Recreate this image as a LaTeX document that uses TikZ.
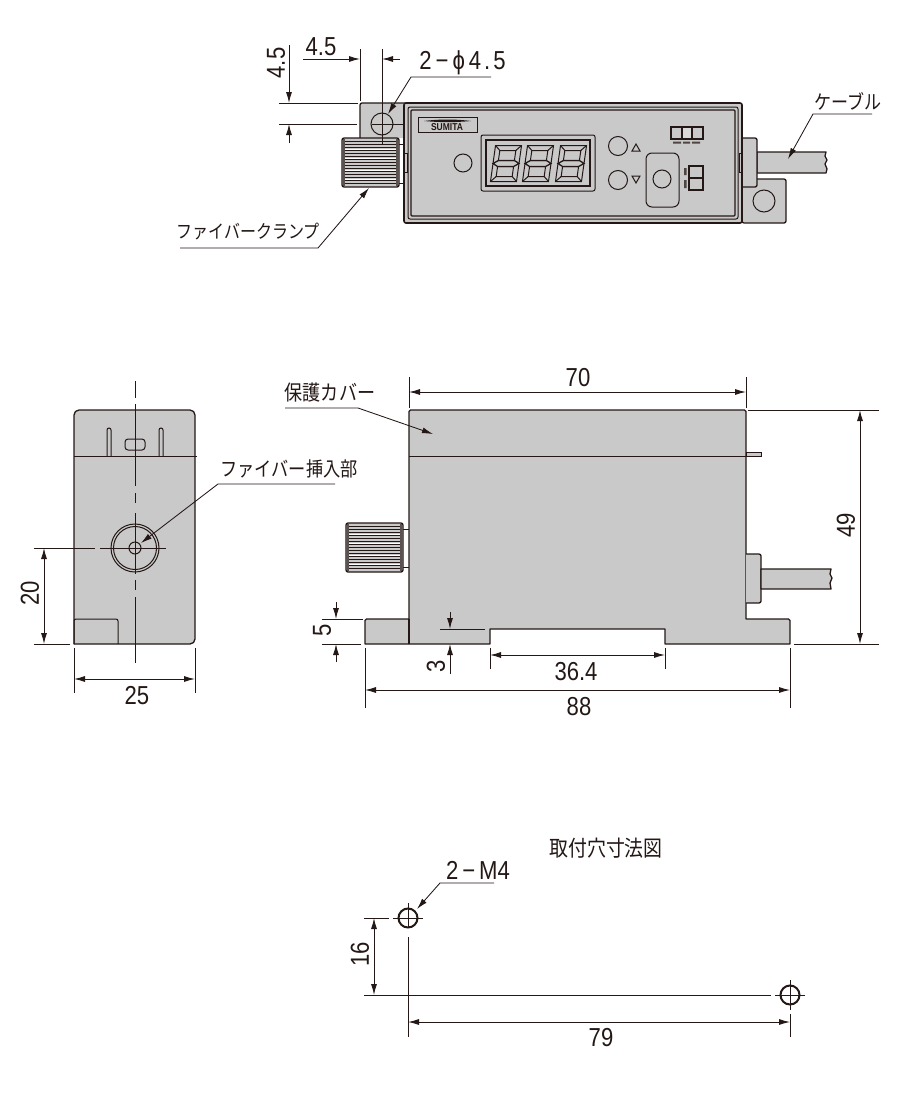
\documentclass[tikz,border=0pt]{standalone}
\usepackage{fontspec}
\setmainfont[FakeStretch=0.85]{Liberation Sans}
\newfontfamily\jpfont[FakeStretch=0.86]{Noto Sans CJK JP}
\usetikzlibrary{arrows.meta,positioning}
\definecolor{ink}{HTML}{231815}
\definecolor{body}{HTML}{C9C9C9}
\tikzset{
  outline/.style={draw=ink,line width=1.3pt,fill=body,line join=round},
  thin/.style={draw=ink,line width=1pt},
  ext/.style={draw=ink,line width=.85pt},
  dim/.style={draw=ink,line width=.9pt,{Latex[length=11pt,width=6pt]}-{Latex[length=11pt,width=6pt]}},
  dimin/.style={draw=ink,line width=.9pt,-{Latex[length=11pt,width=6pt]}},
  leader/.style={draw=ink,line width=.85pt,-{Latex[length=11pt,width=6pt]}},
  numtext/.style={inner sep=0pt,text=ink,font=\fontsize{26}{26}\selectfont},
  jptext/.style={inner sep=0pt,text=ink,font=\jpfont\fontsize{#1}{#1}\selectfont},
  jptext/.default=18,
  knob/.pic={
    \draw[outline,rounded corners=2pt] (0,0) rectangle (57,49);
    \fill[ink!75] (.6,1) rectangle (3,48);
    \fill[ink!75] (54,1) rectangle (56.4,48);
    \foreach \ry in {3,6,...,46} \draw[draw=ink,line width=.8pt] (3,\ry) -- (54,\ry);
    \foreach \ry in {10,19,31,40} \draw[draw=white,line width=.7pt] (3,\ry+1) -- (54,\ry+1);
  },
  segdigit/.pic={
    \begin{scope}[xslant=.14]
      \draw[thin] (-13,-18) rectangle (13,18);
      \draw[thin] (-8,-13) rectangle (8,-3);
      \draw[thin] (-8,3) rectangle (8,13);
      \draw[draw=ink,line width=1.3pt] (-13,0) -- (-8,-3) -- (8,-3) -- (13,0) -- (8,3) -- (-8,3) -- cycle;
      \draw[thin] (-13,-18) -- (-8,-13) (13,-18) -- (8,-13) (-13,18) -- (-8,13) (13,18) -- (8,13);
    \end{scope}
  }
}
\begin{document}
\begin{tikzpicture}[x=1pt,y=-1pt]
  \useasboundingbox (0,0) rectangle (900,1103);

  % top view
  \draw[outline,rounded corners=2pt] (360,138) -- (360,103) -- (410,103) -- (410,138);
  \draw[outline,rounded corners=2pt] (742,179) -- (786,179) -- (786,223) -- (742,223) -- cycle;
  \draw[outline] (757,152) -- (826,152) -- (825,156) -- (827,160) -- (825,164) -- (827,169) -- (826,173) -- (757,173) -- cycle;
  \draw[outline,rounded corners=2pt] (742,138) -- (757,138) -- (757,187) -- (742,187);
  \draw[thin] (764,201) circle[radius=11];
  \draw[outline,line width=1.6pt,rounded corners=2pt] (404,103) rectangle (742,223);
  \draw[thin,rounded corners=2pt] (408,107) rectangle (738,219);
  \draw[thin,line width=1.3pt,rounded corners=1pt] (411,110) rectangle (735,216);
  \draw[thin] (404.5,153) rectangle (407.5,172) (739,153) rectangle (741.5,172);
  \draw[thin] (382,124) circle[radius=11];
  \draw[thin] (399,144) -- (404,144) (399,183) -- (404,183);
  \pic at (342,138) {knob};

  % panel
  \draw[thin] (418,117) rectangle (477,132);
  \fill[ink] (424,121) .. controls (440,119) and (455,119) .. (471,121) .. controls (455,122.5) and (440,122.5) .. (424,121) -- cycle;
  \node[inner sep=0pt,text=ink,font=\bfseries\fontsize{10}{10}\selectfont] (logo) at (447,127.5) {SUMITA};
  \draw[thin] (463,163) circle[radius=9];
  \draw[thin,rounded corners=2pt] (481,135) rectangle (595,191);
  \draw[thin,line width=1.2pt] (486,140) rectangle (590,186);
  \pic at (506,163.5) {segdigit};
  \pic at (538,163.5) {segdigit};
  \pic at (571,163.5) {segdigit};
  \draw[thin] (618,146) circle[radius=9.5] (618,180) circle[radius=9.5];
  \draw[thin] (632,151) -- (640,151) -- (636,144) -- cycle;
  \draw[thin] (632,176) -- (640,176) -- (636,183) -- cycle;
  \draw[thin,rounded corners=6pt] (646,153) rectangle (679,207);
  \draw[thin] (662,179) circle[radius=9];
  \draw[thin,line width=1.2pt] (671,127) rectangle (703,139);
  \draw[thin,line width=1.2pt,fill=body!70] (682,127) rectangle (692,139);
  \fill[ink!80] (673,141.5) rectangle (681,143.5) (683,141.5) rectangle (690,143.5) (692,141.5) rectangle (700,143.5);
  \draw[thin,line width=1.2pt] (689,166) rectangle (703,190);
  \draw[thin,line width=1.5pt] (689,178) -- (703,178);
  \fill[ink!80] (684,168) rectangle (686.5,175) (684,180) rectangle (686.5,188);

  % top view dimensions
  \draw[ext] (360,49) -- (360,101) (382,49) -- (382,145) (279,103) -- (358,103) (279,124) -- (357,124) (372,124) -- (403,124);
  \coordinate (holeA) at (360,59);
  \coordinate (holeAtail) at (303,59);
  \coordinate (holeB) at (382,59);
  \coordinate (holeBtail) at (400,59);
  \draw[dimin] (holeAtail) -- (holeA);
  \draw[dimin] (holeBtail) -- (holeB);
  \node[numtext] (t45a) at (321,47) {4.5};
  \coordinate (holeC) at (289,103);
  \coordinate (holeCtail) at (289,45);
  \coordinate (holeD) at (289,124);
  \coordinate (holeDtail) at (289,143);
  \draw[dimin] (holeCtail) -- (holeC);
  \draw[dimin] (holeDtail) -- (holeD);
  \node[numtext,rotate=90] (t45b) at (276,63) {4.5};
  \node[numtext] (t2phi) at (462.5,63) {2\kern4pt−\kern4ptϕ\kern4pt4\kern3pt.\kern3pt5};
  \coordinate (phitail) at (491,77);
  \coordinate (phibend) at (411,77);
  \coordinate (phitip) at (388,114);
  \draw[leader] (phitail) -- (phibend) -- (phitip);
  \node[jptext=18.6] (tclamp) at (248,232) {ファイバークランプ};
  \coordinate (clamptail) at (180,248);
  \coordinate (clampbend) at (318,248);
  \coordinate (clamptip) at (369,188);
  \draw[leader] (clamptail) -- (clampbend) -- (clamptip);
  \node[jptext=19.8] (tcable) at (848,101) {ケーブル};
  \coordinate (cabletail) at (872,114);
  \coordinate (cablebend) at (813,114);
  \coordinate (cabletip) at (788,159);
  \draw[leader] (cabletail) -- (cablebend) -- (cabletip);

  % end view
  \draw[outline,rounded corners=5pt] (74,644) -- (74,410) -- (195,410) -- (195,644) [sharp corners] -- cycle;
  \draw[thin,rounded corners=2pt] (74,644) -- (74,619) -- (118,619) -- (118,644);
  \draw[thin] (74,456) -- (197,456);
  \draw[thin,rounded corners=2pt] (107,456) -- (107,428) -- (111,428) -- (111,456);
  \draw[thin,rounded corners=2pt] (159,456) -- (159,428) -- (163,428) -- (163,456);
  \draw[thin,rounded corners=3pt] (125,439) rectangle (145,450);
  \draw[thin] (135,548) circle[radius=24] (135,548) circle[radius=21.5] (135,548) circle[radius=6];
  \draw[ext] (135,381) -- (135,398) (135,404) -- (135,486) (135,493) -- (135,503) (135,513) -- (135,574) (135,580) -- (135,590) (135,597) -- (135,663);
  \draw[ext] (34,548) -- (95,548) (100,548) -- (166,548) (34,644) -- (70,644) (74,648) -- (74,693) (195,648) -- (195,693);
  \coordinate (h20a) at (44,548);
  \coordinate (h20b) at (44,644);
  \draw[dim] (h20a) -- (h20b);
  \node[numtext,rotate=90] (t20) at (30,593) {20};
  \coordinate (w25a) at (74,679);
  \coordinate (w25b) at (195,679);
  \draw[dim] (w25a) -- (w25b);
  \node[numtext] (t25) at (137,696) {25};
  \node[jptext=20] (tinsert) at (289,469) {ファイバー挿入部};
  \coordinate (inserttail) at (335,484);
  \coordinate (insertbend) at (218,484);
  \coordinate (inserttip) at (141,543);
  \draw[leader] (inserttail) -- (insertbend) -- (inserttip);

  % side view
  \draw[outline] (365,644) -- (365,620.5) -- (366.5,619) -- (409,619) -- (409,411.5) -- (410.5,410) -- (744.5,410) -- (746,411.5) -- (746,619) -- (788.5,619) -- (790,620.5) -- (790,644) -- (665,644) -- (665,629) -- (490,629) -- (490,644) -- cycle;
  \draw[draw=ink,line width=1.3pt] (409,619) -- (409,644);
  \draw[thin] (409,456) -- (746,456);
  \draw[thin,fill=body] (746,452) rectangle (761,456);
  \draw[outline,rounded corners=2pt] (746,554) -- (761,554) -- (761,603) -- (746,603);
  \draw[outline] (761,569) -- (831,569) -- (830,574) -- (832,578) -- (830,583) -- (831,589) -- (761,589) -- cycle;
  \draw[thin] (403,529) -- (409,529) (403,567) -- (409,567);
  \pic at (346,523) {knob};

  % side view dimensions
  \draw[ext] (409,377) -- (409,408) (746,377) -- (746,408) (748,410) -- (879,410) (794,644) -- (879,644);
  \coordinate (w70a) at (409,392);
  \coordinate (w70b) at (746,392);
  \draw[dim] (w70a) -- (w70b);
  \node[numtext] (t70) at (578,378) {70};
  \coordinate (h49a) at (860,410);
  \coordinate (h49b) at (860,644);
  \draw[dim] (h49a) -- (h49b);
  \node[numtext,rotate=90] (t49) at (846,525) {49};
  \node[jptext=21] (tcover) at (330,393) {保護カバー};
  \coordinate (covertail) at (285,408);
  \coordinate (coverbend) at (358,408);
  \coordinate (covertip) at (433,434);
  \draw[leader] (covertail) -- (coverbend) -- (covertip);
  \draw[ext] (322,619) -- (363,619) (322,644) -- (361,644) (440,629) -- (485,629);
  \coordinate (h5a) at (336,619);
  \coordinate (h5atail) at (336,602);
  \coordinate (h5b) at (336,644);
  \coordinate (h5btail) at (336,662);
  \draw[dimin] (h5atail) -- (h5a);
  \draw[dimin] (h5btail) -- (h5b);
  \node[numtext,rotate=90] (t5) at (322,630) {5};
  \coordinate (h3a) at (450,629);
  \coordinate (h3atail) at (450,612);
  \coordinate (h3b) at (450,644);
  \coordinate (h3btail) at (450,674);
  \draw[dimin] (h3atail) -- (h3a);
  \draw[dimin] (h3btail) -- (h3b);
  \node[numtext,rotate=90] (t3) at (436,666) {3};
  \draw[ext] (490,648) -- (490,669) (665,648) -- (665,669) (365,648) -- (365,708) (790,648) -- (790,708);
  \coordinate (w36a) at (490,655);
  \coordinate (w36b) at (665,655);
  \draw[dim] (w36a) -- (w36b);
  \node[numtext] (t36) at (576,672) {36.4};
  \coordinate (w88a) at (365,690);
  \coordinate (w88b) at (790,690);
  \draw[dim] (w88a) -- (w88b);
  \node[numtext] (t88) at (579,707) {88};

  % mounting holes
  \node[jptext=22] (ttitle) at (606,848) {取付穴寸法図};
  \node[numtext] (tm4) at (478,870) {2\kern4pt−\kern4ptM4};
  \draw[draw=ink,line width=2pt] (408,918) circle[radius=9.5] (790,995) circle[radius=9.5];
  \draw[ext] (408,903) -- (408,928) (408,937) -- (408,1037) (364,918) -- (389,918) (393,918) -- (423,918);
  \draw[ext] (790,980) -- (790,1010) (790,1014) -- (790,1037) (364,995) -- (771,995) (775,995) -- (805,995);
  \coordinate (m4tail) at (494,883);
  \coordinate (m4bend) at (440,883);
  \coordinate (m4tip) at (417,909);
  \draw[leader] (m4tail) -- (m4bend) -- (m4tip);
  \coordinate (h16a) at (374,918);
  \coordinate (h16b) at (374,995);
  \draw[dim] (h16a) -- (h16b);
  \node[numtext,rotate=90] (t16) at (360,954) {16};
  \coordinate (w79a) at (408,1022);
  \coordinate (w79b) at (790,1022);
  \draw[dim] (w79a) -- (w79b);
  \node[numtext] (t79) at (601,1038) {79};
\end{tikzpicture}
\end{document}
